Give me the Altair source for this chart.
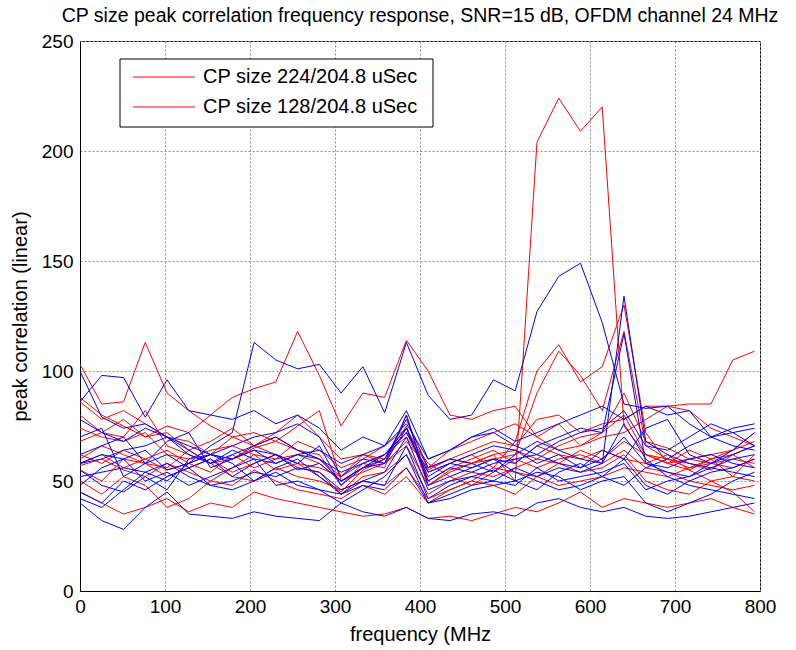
import altair as alt
import pandas as pd

# frequency grid (MHz): 32 points, step 25.6
freq = [round(i * 25.6, 1) for i in range(32)]

# red series (CP 224 / CP 128 runs)
red_01 = [57,60,55,52,58,54,50,56,62,55,58,52,45,55,60,75,48,55,58,62,50,204,224,209,220,75,62,58,55,60,52,50]
red_02 = [103,85,86,113,90,82,75,70,66,72,80,70,60,62,58,68,56,60,58,62,64,60,66,70,72,80,62,60,58,55,62,66]
red_03 = [68,72,78,70,75,72,80,88,92,95,118,98,75,90,88,114,100,80,78,82,84,70,76,66,72,90,68,65,60,58,56,60]
red_04 = [62,58,64,60,55,58,62,60,65,68,64,60,52,58,62,70,55,60,64,68,66,78,80,72,76,78,84,84,85,85,105,109]
red_05 = [45,40,35,38,42,36,40,38,45,42,40,38,36,34,35,38,33,34,32,35,38,36,40,45,38,42,40,38,40,42,38,35]
red_06 = [50,44,52,48,38,42,50,48,55,50,46,44,42,48,44,52,40,46,50,48,44,52,58,54,56,62,50,46,44,50,45,36]
red_07 = [80,72,70,82,66,62,58,60,66,70,64,62,48,58,56,80,50,56,60,64,58,66,62,60,64,60,58,62,55,50,52,62]
red_08 = [86,78,82,76,70,68,62,70,72,68,75,82,50,56,62,72,54,58,62,56,68,100,112,95,102,130,72,58,60,62,64,68]
red_09 = [58,62,56,60,64,58,54,62,56,60,62,58,50,54,58,66,48,54,58,60,62,90,109,98,82,118,66,60,56,58,60,58]
red_10 = [55,50,60,58,52,56,60,54,58,62,56,54,44,52,54,62,44,50,54,52,56,60,58,64,60,68,62,58,64,60,62,56]
red_11 = [74,70,68,72,62,60,64,66,62,60,68,64,56,60,66,74,56,64,68,72,76,70,64,66,70,72,78,84,82,74,70,66]
red_12 = [60,66,62,58,56,64,58,52,50,56,52,50,46,50,48,56,42,46,50,56,54,52,48,50,52,56,54,52,56,60,64,72]
red_13 = [88,80,75,70,72,64,68,74,66,62,58,56,52,62,60,72,58,52,48,54,60,56,60,62,58,64,56,54,50,48,46,48]

# blue series
blue_01 = [58,62,60,64,55,58,66,72,113,105,101,103,90,102,81,113,89,78,80,96,91,127,143,149,122,85,83,84,76,70,66,64]
blue_02 = [100,79,74,76,70,66,62,60,64,58,62,60,50,56,58,74,50,56,54,58,60,62,58,56,60,70,58,56,60,62,58,56]
blue_03 = [86,98,97,79,96,82,80,78,82,76,80,74,64,70,66,76,60,64,70,72,66,62,68,72,74,82,66,64,70,76,72,74]
blue_04 = [40,32,28,38,45,35,34,33,36,34,33,32,40,36,34,38,33,32,35,36,34,40,42,38,36,38,34,33,34,36,38,40]
blue_05 = [55,48,45,52,46,60,62,58,50,56,60,52,44,50,48,66,42,48,52,55,50,46,54,58,52,60,48,44,50,54,56,60]
blue_06 = [48,56,60,50,54,48,52,56,60,48,50,46,40,46,52,62,40,44,48,50,48,56,50,52,54,58,46,50,52,58,62,66]
blue_07 = [62,66,70,58,62,56,60,52,58,62,55,58,50,56,60,78,56,60,58,54,62,68,64,60,58,134,68,62,58,56,54,52]
blue_08 = [42,38,46,54,50,58,62,66,70,72,76,70,52,60,58,80,48,52,56,60,58,66,70,74,72,117,58,54,52,56,60,62]
blue_09 = [70,74,52,58,68,72,56,60,64,62,58,66,48,56,62,74,52,58,62,66,64,58,62,56,64,60,74,78,62,58,64,72]
blue_10 = [52,54,56,54,58,52,48,50,54,52,56,54,46,50,54,70,46,50,52,50,56,52,56,54,58,76,60,52,48,46,44,42]
blue_11 = [58,60,64,66,70,64,58,62,66,70,64,60,54,58,62,72,54,58,56,60,54,50,46,48,52,48,56,60,66,70,74,76]
blue_12 = [45,40,50,46,52,56,48,46,50,54,48,46,44,48,46,56,40,42,46,48,50,54,52,46,50,52,40,36,40,44,50,54]
blue_13 = [78,72,68,74,70,62,58,64,60,58,62,64,58,62,66,82,60,64,70,74,68,72,76,80,84,78,84,80,82,70,72,66]

red_list = [red_01, red_02, red_03, red_04, red_05, red_06, red_07, red_08, red_09, red_10, red_11, red_12, red_13]
blue_list = [blue_01, blue_02, blue_03, blue_04, blue_05, blue_06, blue_07, blue_08, blue_09, blue_10, blue_11, blue_12, blue_13]

legend_labels = ["CP size 224/204.8 uSec", "CP size 128/204.8 uSec"]

rows = []
order = 0
for color, group in (("#ff0000", red_list), ("#0000ff", blue_list)):
    for s in group:
        for f, v in zip(freq, s):
            rows.append({"series": order, "freq": f, "val": v, "color": color})
        order += 1
df = pd.DataFrame(rows)

FONT = "Liberation Sans"

xscale = alt.Scale(domain=[0, 800], nice=False, zero=False)
yscale = alt.Scale(domain=[0, 250], nice=False)

lines = alt.Chart(df).mark_line(strokeWidth=1, clip=True).encode(
    x=alt.X("freq:Q", scale=xscale,
            axis=alt.Axis(title="frequency (MHz", values=list(range(0, 801, 100)),
                          labelFlush=False, ticks=False, labelPadding=6,
                          titlePadding=8)),
    y=alt.Y("val:Q", scale=yscale,
            axis=alt.Axis(title="peak correlation (linear)", values=list(range(0, 251, 50)),
                          labelFlush=False, ticks=False, labelPadding=7,
                          titlePadding=11)),
    color=alt.Color("color:N", scale=None),
    detail="series:N",
    order="series:Q",
)

# legend box (decoration)
one = pd.DataFrame({"k": [0]})
box = alt.Chart(one).mark_rect(
    fill="white", stroke="black", strokeWidth=1
).encode(x=alt.value(40), x2=alt.value(353), y=alt.value(18), y2=alt.value(86))

leg_layers = [box]
for i, lab in enumerate(legend_labels):
    ypix = 36 + 30 * i
    leg_layers.append(
        alt.Chart(one).mark_rule(strokeWidth=1).encode(
            x=alt.value(53), x2=alt.value(115), y=alt.value(ypix),
            color=alt.value("#ff0000"))
    )
    leg_layers.append(
        alt.Chart(pd.DataFrame({"label": [lab]})).mark_text(
            align="left", baseline="middle", font=FONT, fontSize=20
        ).encode(x=alt.value(123), y=alt.value(ypix), text="label:N",
                 color=alt.value("black"))
    )

chart = alt.layer(lines, *leg_layers).properties(
    width=680, height=550,
    background="white",
    autosize=alt.AutoSizeParams(type="none"),
    padding={"left": 80, "top": 41, "right": 36, "bottom": 59},
    title=alt.Title("CP size peak correlation frequency response, SNR=15 dB, OFDM channel 24 MHz",
                    font=FONT, fontSize=19.5, fontWeight="normal", color="black",
                    anchor="middle", offset=6),
).configure_view(
    stroke="black", strokeWidth=1
).configure_axis(
    labelFont=FONT, labelFontSize=19, labelColor="black",
    titleFont=FONT, titleFontSize=20, titleColor="black", titleFontWeight="normal",
    domainColor="black", domainWidth=1,
    gridColor="#8c8c8c", gridDash=[2, 2], gridWidth=1, gridOpacity=1,
)

chart.save("out.html", embed_options={"renderer": "svg", "actions": False})
